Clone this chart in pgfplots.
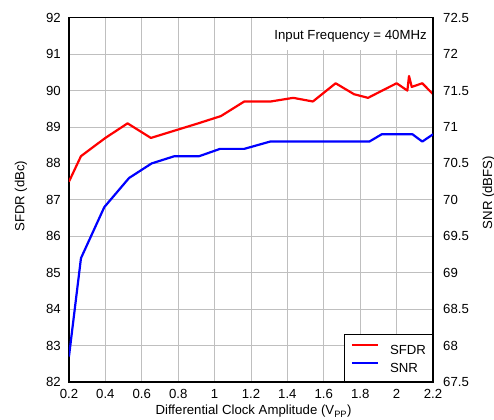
\documentclass[border=0pt]{standalone}
\usepackage{fontspec}
\setmainfont{Liberation Sans}
\usepackage{pgfplots}
\pgfplotsset{compat=1.18}
\begin{document}
\fontsize{13.2}{15}\selectfont
\begin{tikzpicture}
\pgfplotsset{
  every axis/.append style={
    scale only axis, width=364.3pt, height=364.6pt,
    xmin=0.2, xmax=2.2,
    /pgf/number format/assume math mode=true,
    major tick length=0pt,
    axis line style={line width=1.5pt},
    tick style={draw=none},
  }
}
\begin{axis}[
  ymin=82, ymax=92, ytick={82,83,...,92},
  xtick={0.2,0.4,0.6,0.8,1,1.2,1.4,1.6,1.8,2,2.2},
  xticklabels={0.2,0.4,0.6,0.8,1,1.2,1.4,1.6,1.8,2,2.2},
  ytick pos=left, xtick pos=bottom,
  grid=major, grid style={black!25, line width=0.8pt},
  xticklabel style={anchor=north, inner sep=0pt, yshift=-7pt},
  yticklabel style={anchor=east, inner sep=0pt, xshift=-8pt},
  xlabel={Differential Clock Amplitude (V\textsubscript{PP})},
  xlabel style={at={(rel axis cs:0.507,-0.090)}, anchor=base, inner sep=0pt},
  ylabel={SFDR (dBc)},
  ylabel style={at={(rel axis cs:-0.1320,0.51)}, anchor=center, inner sep=0pt},
]
\fill[white] (rel axis cs:0.511,0.911) rectangle (rel axis cs:0.997,0.997);
\node[anchor=base east, inner sep=0pt] at (rel axis cs:0.983,0.941) {Input Frequency = 40MHz};
\addplot[red, line width=2.2pt, line join=round] coordinates {
(0.2,87.5) (0.266,88.2) (0.4,88.7) (0.522,89.1) (0.65,88.7) (0.78,88.9)
(0.91,89.1) (1.035,89.3) (1.163,89.7) (1.308,89.7) (1.432,89.8) (1.54,89.7)
(1.665,90.2) (1.766,89.9) (1.843,89.8) (1.921,90.0) (2.0,90.2) (2.059,90.0)
(2.068,90.4) (2.083,90.1) (2.141,90.2) (2.2,89.9)
};
\end{axis}
\begin{axis}[
  ymin=67.5, ymax=72.5,
  ytick={67.5,68,68.5,69,69.5,70,70.5,71,71.5,72,72.5},
  axis y line*=right, axis x line=none,
  yticklabel style={anchor=west, inner sep=0pt, xshift=10pt},
  ylabel={SNR (dBFS)},
  ylabel style={at={(rel axis cs:1.153,0.52)}, anchor=center, inner sep=0pt},
  legend style={at={(rel axis cs:1,0)}, anchor=south east, draw=black,
    line width=1.2pt, fill=white, inner xsep=6.5pt, inner ysep=9.3pt,
    row sep=7.4pt,
    nodes={inner sep=0pt, text height=9.3pt, text depth=0pt},
    /tikz/every odd column/.append style={column sep=11pt},
    font=\fontsize{13.2}{15}\selectfont},
  legend cell align=left,
  legend image code/.code={\draw[line width=2.2pt,#1] (0pt,4.6pt) -- (26pt,4.6pt);},
]
\addlegendimage{red, line width=2.2pt}
\addlegendentry{SFDR}
\addplot[blue, line width=2.2pt, line join=round] coordinates {
(0.2,67.85) (0.266,69.2) (0.394,69.9) (0.53,70.3) (0.654,70.5) (0.78,70.6)
(0.916,70.6) (1.03,70.7) (1.163,70.7) (1.305,70.8) (1.85,70.8) (1.918,70.9)
(2.087,70.9) (2.141,70.8) (2.2,70.9)
};
\addlegendentry{SNR}
\end{axis}
\pgfresetboundingbox
\path[use as bounding box] (-69pt,-37.7pt) rectangle (425.3pt,382.3pt);
\end{tikzpicture}
\end{document}
